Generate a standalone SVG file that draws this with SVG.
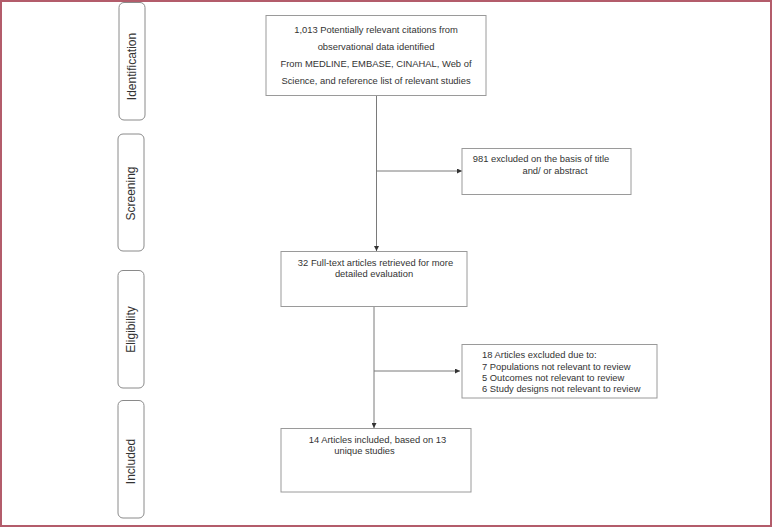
<svg xmlns="http://www.w3.org/2000/svg" width="772" height="527" viewBox="0 0 772 527">
<defs>
<style>
.stage{fill:#fff;stroke:#8a8a8a;stroke-width:1}
.box{fill:#fff;stroke:#9a9a9a;stroke-width:1}
.lbl{font-family:"Liberation Sans",Arial,sans-serif;font-size:12px;fill:#333}
.t{font-family:"Liberation Sans",Arial,sans-serif;font-size:9.4px;fill:#333}
.c{text-anchor:middle}
.conn{stroke:#7a7a7a;stroke-width:1;fill:none}
</style>
<marker id="ah" viewBox="0 0 6 6" refX="6" refY="3" markerWidth="5" markerHeight="5" orient="auto" markerUnits="userSpaceOnUse">
<path d="M0,0 L6,3 L0,6 Z" fill="#333"/>
</marker>
</defs>
<rect x="0" y="0" width="772" height="527" fill="#fff"/>
<rect x="1" y="1" width="770" height="525" fill="none" stroke="#b35c6b" stroke-width="2"/>

<g id="stage-identification">
<rect class="stage" x="119" y="2.5" width="26" height="117.5" rx="5"/>
<text class="lbl c" transform="translate(136,66.5) rotate(-90)">Identification</text>
</g>
<g id="stage-screening">
<rect class="stage" x="118" y="134" width="26" height="117" rx="5"/>
<text class="lbl c" transform="translate(135,193.5) rotate(-90)">Screening</text>
</g>
<g id="stage-eligibility">
<rect class="stage" x="118" y="270.5" width="26" height="117.5" rx="5"/>
<text class="lbl c" transform="translate(134.5,329.5) rotate(-90)">Eligibility</text>
</g>
<g id="stage-included">
<rect class="stage" x="118" y="400.5" width="26" height="117.5" rx="5"/>
<text class="lbl c" transform="translate(134.5,461.5) rotate(-90)">Included</text>
</g>

<g id="connectors">
<line class="conn" x1="376.5" y1="95" x2="376.5" y2="251" marker-end="url(#ah)"/>
<line class="conn" x1="376.5" y1="171" x2="462" y2="171" marker-end="url(#ah)"/>
<line class="conn" x1="374" y1="306" x2="374" y2="428" marker-end="url(#ah)"/>
<line class="conn" x1="374" y1="371" x2="460" y2="371" marker-end="url(#ah)"/>
</g>

<g id="n-identified">
<rect class="box" x="266" y="15.5" width="220" height="80"/>
<text class="t c" x="376" y="32.5">1,013 Potentially relevant citations from</text>
<text class="t c" x="376" y="49.5">observational data identified</text>
<text class="t c" x="376" y="66.5">From MEDLINE, EMBASE, CINAHAL, Web of</text>
<text class="t c" x="376" y="83.5">Science, and reference list of relevant studies</text>
</g>
<g id="n-excluded1">
<rect class="box" x="462" y="148.5" width="169" height="46"/>
<text class="t c" x="541" y="161.5">981 excluded on the basis of title</text>
<text class="t c" x="555" y="173.5">and/ or abstract</text>
</g>
<g id="n-fulltext">
<rect class="box" x="281" y="251.5" width="186" height="55"/>
<text class="t c" x="375.5" y="265.5">32 Full-text articles retrieved for more</text>
<text class="t c" x="374" y="276.5">detailed evaluation</text>
</g>
<g id="n-excluded2">
<rect class="box" x="462" y="344.5" width="195" height="53.5"/>
<text class="t" x="482" y="358">18 Articles excluded due to:</text>
<text class="t" x="482" y="369.5">7 Populations not relevant to review</text>
<text class="t" x="482" y="380.5">5 Outcomes not relevant to review</text>
<text class="t" x="482" y="391.5">6 Study designs not relevant to review</text>
</g>
<g id="n-included">
<rect class="box" x="281" y="428.5" width="190" height="63.5"/>
<text class="t c" x="377.5" y="442.5">14 Articles included, based on 13</text>
<text class="t c" x="364.5" y="453.5">unique studies</text>
</g>
</svg>
